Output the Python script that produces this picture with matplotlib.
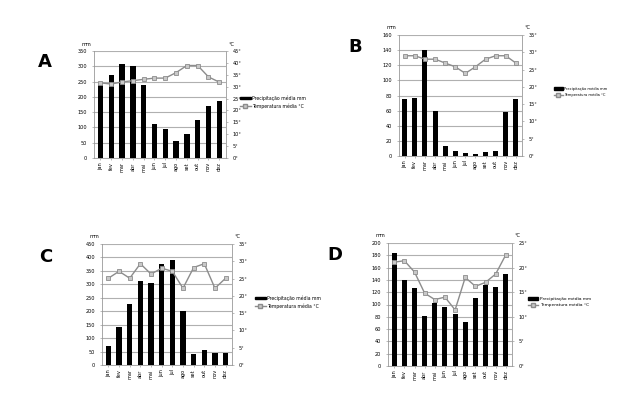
import matplotlib
matplotlib.use('Agg')
from matplotlib import pyplot as plt
from matplotlib.lines import Line2D
from matplotlib.patches import Patch

meses = ['jan', 'fev', 'mar', 'abr', 'mai', 'jun', 'jul', 'ago', 'set', 'out', 'nov', 'dez']

# precipitacao media (mm) e temperatura media (C) de cada climograma
prec_a = [240, 270, 308, 300, 240, 110, 95, 55, 80, 125, 170, 185]
temp_a = [31.6, 31.1, 32.0, 32.5, 33.1, 33.6, 33.6, 35.9, 38.9, 38.9, 34.1, 31.9]

prec_b = [76, 77, 140, 60, 13, 7, 4, 2, 5, 7, 58, 75]
temp_b = [29.0, 29.0, 28.0, 28.0, 26.9, 25.8, 23.9, 25.8, 28.0, 29.0, 29.0, 26.9]

prec_c = [72, 142, 228, 312, 305, 375, 392, 202, 42, 56, 45, 43]
temp_c = [25.1, 27.1, 25.1, 29.3, 26.3, 28.0, 27.1, 22.2, 28.2, 29.3, 22.2, 25.1]

prec_d = [183, 140, 127, 81, 103, 96, 85, 71, 110, 131, 129, 150]
temp_d = [21.1, 21.4, 19.1, 14.8, 13.5, 14.0, 11.4, 18.0, 16.2, 17.0, 18.7, 22.6]

fig = plt.figure(figsize=(6.22, 4.0), dpi=100)
fs = 3.6


def climograma(rect, letra, pos_letra, prec, temp, ymax, ystep, tmax, pos_leg, fs_leg):
    ax = fig.add_axes(rect)
    x = list(range(len(meses)))
    ax.bar(x, prec, width=0.5, color='black', zorder=3)
    ax.set_xlim(-0.6, 11.6)
    ax.set_ylim(0, ymax)
    ax.set_yticks(range(0, ymax + 1, ystep))
    ax.yaxis.grid(True, color='#b0b0b0', linewidth=0.8)
    ax.set_axisbelow(True)
    ax.set_xticks(x)
    ax.set_xticklabels(meses, rotation=90, fontsize=fs)
    ax.tick_params(axis='y', labelsize=fs, length=1.5, width=0.4, color='#888888')
    ax.tick_params(axis='x', length=1.5, width=0.4, color='#888888', pad=1.5)
    for s in ['top', 'right']:
        ax.spines[s].set_visible(False)
    for s in ['left', 'bottom']:
        ax.spines[s].set_color('#999999')
        ax.spines[s].set_linewidth(0.6)
    ax.text(-0.02, 1.04, 'mm', transform=ax.transAxes, fontsize=fs, ha='right', va='bottom')

    ax2 = ax.twinx()
    ax2.plot(x, temp, color='#8c8c8c', linewidth=1.0, marker='s', markersize=3,
             markerfacecolor='#c8c8c8', markeredgecolor='#8c8c8c', markeredgewidth=0.6, zorder=4)
    ax2.set_ylim(0, tmax)
    ax2.set_yticks(range(0, tmax + 1, 5))
    ax2.set_yticklabels([str(t) + '°' for t in range(0, tmax + 1, 5)])
    ax2.tick_params(axis='y', labelsize=fs, length=1.5, width=0.4, color='#888888')
    for s in ['top', 'left', 'bottom']:
        ax2.spines[s].set_visible(False)
    ax2.spines['right'].set_color('#999999')
    ax2.spines['right'].set_linewidth(0.6)
    ax2.text(1.02, 1.04, '°C', transform=ax2.transAxes, fontsize=fs, ha='left', va='bottom')

    handles = [Patch(facecolor='black', edgecolor='black'),
               Line2D([], [], color='#8c8c8c', linewidth=1.0, marker='s', markersize=2.5,
                      markerfacecolor='#c8c8c8', markeredgecolor='#8c8c8c')]
    ax2.legend(handles, ['Precipitação média mm', 'Temperatura média °C'],
               loc='center left', bbox_to_anchor=pos_leg, bbox_transform=fig.transFigure,
               frameon=False, fontsize=fs_leg, handlelength=2.4, handleheight=0.6,
               handletextpad=0.3, labelspacing=0.6, borderpad=0)

    fig.text(pos_letra[0], pos_letra[1], letra, fontsize=13, fontweight='bold', ha='center', va='center')


climograma([0.151, 0.605, 0.212, 0.2675], 'A', (0.072, 0.845), prec_a, temp_a, 350, 50, 45, (0.382, 0.745), 3.3)
climograma([0.641, 0.61, 0.198, 0.3025], 'B', (0.571, 0.883), prec_b, temp_b, 160, 20, 35, (0.888, 0.77), 2.6)
climograma([0.164, 0.0875, 0.209, 0.3025], 'C', (0.074, 0.358), prec_c, temp_c, 450, 50, 35, (0.406, 0.245), 3.3)
climograma([0.624, 0.085, 0.199, 0.3075], 'D', (0.539, 0.363), prec_d, temp_d, 200, 20, 25, (0.845, 0.245), 3.2)

plt.savefig('out.png', dpi=100)
